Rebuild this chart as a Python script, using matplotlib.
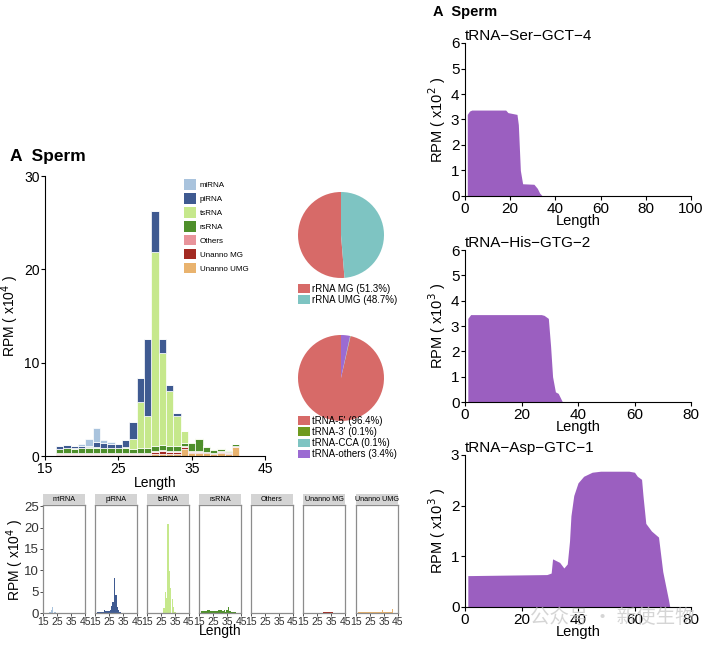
import matplotlib.pyplot as plt
from matplotlib.patches import Patch

plt.rcParams['font.family'] = ['Liberation Sans', 'DejaVu Sans']

W, H = 710, 646

# ---- length distribution (RPM x10^4), lengths 17..41 ----
lengths = list(range(17, 42))
categories = ['miRNA', 'piRNA', 'tsRNA', 'rsRNA', 'Others', 'Unanno MG', 'Unanno UMG']
cat_colors = ['#a9c3dd', '#3f5a91', '#c6e88c', '#4e8f2b', '#e8949b', '#a32a22', '#e9b36e']

mirna = [0, 0.05, 0.05, 0.2, 0.7, 1.5, 0.3, 0.15, 0.05, 0, 0, 0, 0, 0, 0, 0, 0, 0, 0, 0, 0, 0, 0, 0, 0]
pirna = [0.25, 0.3, 0.2, 0.25, 0.2, 0.6, 0.5, 0.45, 0.4, 0.8, 1.75, 2.5, 8.2, 4.3, 1.5, 0.6, 0.3,
         0, 0, 0, 0, 0, 0, 0, 0]
tsrna = [0.05, 0.05, 0.05, 0.05, 0.05, 0.05, 0.05, 0.05, 0.05, 0.1, 1.1, 5.0, 3.45, 20.8, 9.8, 5.95, 3.2,
         1.3, 0.15, 0.1, 0.1, 0.05, 0.1, 0.05, 0.05]
rsrna = [0.45, 0.55, 0.5, 0.55, 0.6, 0.6, 0.55, 0.55, 0.55, 0.55, 0.5, 0.55, 0.6, 0.6, 0.6, 0.55, 0.6,
         0.35, 0.8, 1.3, 0.5, 0.3, 0.3, 0.15, 0.2]
others = [0.05, 0.05, 0.05, 0.05, 0.05, 0.05, 0.05, 0.05, 0.05, 0.05, 0.05, 0.05, 0.05, 0.1, 0.1, 0.1, 0.1,
          0.1, 0.1, 0.1, 0.05, 0.05, 0.05, 0.05, 0.05]
unanno_mg = [0.1, 0.1, 0.1, 0.1, 0.1, 0.1, 0.1, 0.1, 0.1, 0.1, 0.1, 0.1, 0.1, 0.2, 0.25, 0.2, 0.2,
             0.15, 0.15, 0.15, 0.1, 0.1, 0.1, 0.1, 0.05]
unanno_umg = [0.12, 0.12, 0.12, 0.12, 0.12, 0.12, 0.12, 0.12, 0.12, 0.12, 0.12, 0.12, 0.12, 0.2, 0.25, 0.2, 0.2,
              0.8, 0.3, 0.3, 0.3, 0.2, 0.35, 0.25, 0.95]
series = [mirna, pirna, tsrna, rsrna, others, unanno_mg, unanno_umg]

# ---- pies ----
rrna_labels = ['rRNA MG (51.3%)', 'rRNA UMG (48.7%)']
rrna_vals = [51.3, 48.7]
rrna_colors = ['#d76a68', '#7ec4c2']
trna_labels = ["tRNA-5' (96.4%)", "tRNA-3' (0.1%)", 'tRNA-CCA (0.1%)', 'tRNA-others (3.4%)']
trna_vals = [96.4, 0.1, 0.1, 3.4]
trna_colors = ['#d76a68', '#6f9a1f', '#7ec4c2', '#9b6bd2']

# ---- tRNA coverage (right column) ----
ser_x = [1, 2, 3, 18, 19, 23, 23.6, 24.5, 25.5, 30.5, 32, 33, 34, 35, 75]
ser_y = [3.2, 3.33, 3.37, 3.37, 3.27, 3.2, 2.8, 1.0, 0.48, 0.46, 0.3, 0.12, 0.02, 0.01, 0.01]
his_x = [1, 2, 27, 28, 29.5, 30.3, 31, 32, 33, 34.5]
his_y = [3.3, 3.45, 3.45, 3.42, 3.3, 2.2, 1.0, 0.4, 0.34, 0]
asp_x = [1, 2, 29, 30.5, 31, 33.5, 35, 36.2, 37, 37.5, 38.5, 40, 42, 45, 48, 58, 60, 61, 62.5, 63, 64,
         66, 68.5, 70, 72, 72.5]
asp_y = [0.62, 0.62, 0.64, 0.67, 0.95, 0.88, 0.77, 0.85, 1.3, 1.8, 2.2, 2.45, 2.58, 2.66, 2.68, 2.68, 2.66,
         2.58, 2.52, 2.2, 1.65, 1.5, 1.38, 0.7, 0.15, 0]
purple = '#9b5fc0'

fig = plt.figure(figsize=(W / 100, H / 100), dpi=100)


def ax_px(x0, y0, x1, y1):
    # axes from pixel box (top-left origin)
    return fig.add_axes([x0 / W, 1 - y1 / H, (x1 - x0) / W, (y1 - y0) / H])


def style_lb(ax, fs):
    ax.spines['top'].set_visible(False)
    ax.spines['right'].set_visible(False)
    ax.tick_params(labelsize=fs, length=3, width=0.8, pad=1)


# ---- main stacked bar chart ----
ax = ax_px(45, 176, 265, 456)
bottom = [0] * len(lengths)
for name, vals, col in reversed(list(zip(categories, series, cat_colors))):
    ax.bar(lengths, vals, width=1, bottom=bottom, color=col, edgecolor='white', linewidth=0.5)
    bottom = [b + v for b, v in zip(bottom, vals)]
ax.set_xlim(15, 45)
ax.set_ylim(0, 30)
ax.set_xticks([15, 25, 35, 45])
ax.set_yticks([0, 10, 20, 30])
style_lb(ax, 10)
ax.set_xlabel('Length', fontsize=10, labelpad=0)
ax.set_ylabel('RPM ( x10$^4$ )', fontsize=10, labelpad=2)
handles = [Patch(facecolor=c, edgecolor='none') for c in cat_colors]
ax.legend(handles, categories, loc='upper left', bbox_to_anchor=((181 - 45) / 220, 1.0), frameon=False,
          fontsize=5.8, handlelength=1.5, handleheight=1.6, handletextpad=0.4, labelspacing=0.45,
          borderaxespad=0)
fig.text(10 / W, 1 - 157 / H, 'A  Sperm', fontsize=12.5, fontweight='bold', va='center')

# ---- pies ----
for cy, vals, cols, labs, ly in [(235, rrna_vals, rrna_colors, rrna_labels, 280),
                                 (378, trna_vals, trna_colors, trna_labels, 412)]:
    pa = ax_px(298, cy - 43, 384, cy + 43)
    pa.pie(vals, colors=cols, startangle=90, radius=1, wedgeprops=dict(linewidth=0))
    pa.set_xlim(-1, 1)
    pa.set_ylim(-1, 1)
    ph = [Patch(facecolor=c, edgecolor='none') for c in cols]
    fig.legend(ph, labs, loc='upper left', bbox_to_anchor=(294 / W, 1 - ly / H), frameon=False,
               fontsize=7, handlelength=1.2, handleheight=1.0, handletextpad=0.25, labelspacing=0.12,
               borderaxespad=0)

# ---- facets ----
facet_x0 = [43, 95, 147, 199, 251, 303, 356]
for i, (name, vals, col) in enumerate(zip(categories, series, cat_colors)):
    fa = ax_px(facet_x0[i], 505, facet_x0[i] + 42, 613)
    fa.bar(lengths, vals, width=1, color=col, linewidth=0)
    fa.set_xlim(15, 45)
    fa.set_ylim(0, 25.3)
    fa.set_xticks([15, 25, 35, 45])
    fa.set_yticks([0, 5, 10, 15, 20, 25])
    for s in fa.spines.values():
        s.set_color('#8c8c8c')
        s.set_linewidth(0.9)
    fa.tick_params(labelsize=7.5, length=2, width=0.6, pad=1, colors='#333333')
    if i > 0:
        fa.set_yticklabels([])
        fa.tick_params(axis='y', length=0)
    else:
        fa.tick_params(axis='y', labelsize=9.5)
    sa = ax_px(facet_x0[i], 494, facet_x0[i] + 42, 505)
    sa.set_facecolor('#d4d4d4')
    sa.set_xticks([])
    sa.set_yticks([])
    for s in sa.spines.values():
        s.set_visible(False)
    sa.text(0.5, 0.5, name, fontsize=5.2, ha='center', va='center', transform=sa.transAxes)
fig.text(15 / W, 1 - 560 / H, 'RPM ( x10$^4$ )', rotation=90, fontsize=10, ha='center', va='center')
fig.text(220 / W, 1 - 631 / H, 'Length', fontsize=10, ha='center', va='center')

# ---- right column ----
fig.text(433 / W, 1 - 12 / H, 'A  Sperm', fontsize=10.5, fontweight='bold', va='center')
panels = [
    (43, 196, ser_x, ser_y, 100, [0, 20, 40, 60, 80, 100], 6, range(7), '2', 'tRNA\u2212Ser\u2212GCT\u22124'),
    (250, 402, his_x, his_y, 80, [0, 20, 40, 60, 80], 6, range(7), '3', 'tRNA\u2212His\u2212GTG\u22122'),
    (455, 607, asp_x, asp_y, 80, [0, 20, 40, 60, 80], 3, range(4), '3', 'tRNA\u2212Asp\u2212GTC\u22121'),
]
for y0, y1, xs, ys, xmax, xt, ymax, yt, ex, title in panels:
    ra = ax_px(465, y0, 691, y1)
    ra.fill_between(xs, ys, 0, color=purple, linewidth=0)
    ra.set_xlim(0, xmax)
    ra.set_ylim(0, ymax)
    ra.set_xticks(xt)
    ra.set_yticks(list(yt))
    style_lb(ra, 11)
    ra.set_xlabel('Length', fontsize=10.5, labelpad=-1)
    ra.set_ylabel('RPM ( x10$^{%s}$ )' % ex, fontsize=10.5, labelpad=2)
    ra.set_title(title, loc='left', fontsize=11, pad=1)

# watermark from the source image
fig.text(612 / W, 1 - 617 / H, '公众号 · 新使生物', fontsize=14, color='#c4c4c4', alpha=0.7,
         ha='center', va='center', family=['Noto Sans CJK SC', 'DejaVu Sans'])

fig.savefig('out.png', dpi=100)
